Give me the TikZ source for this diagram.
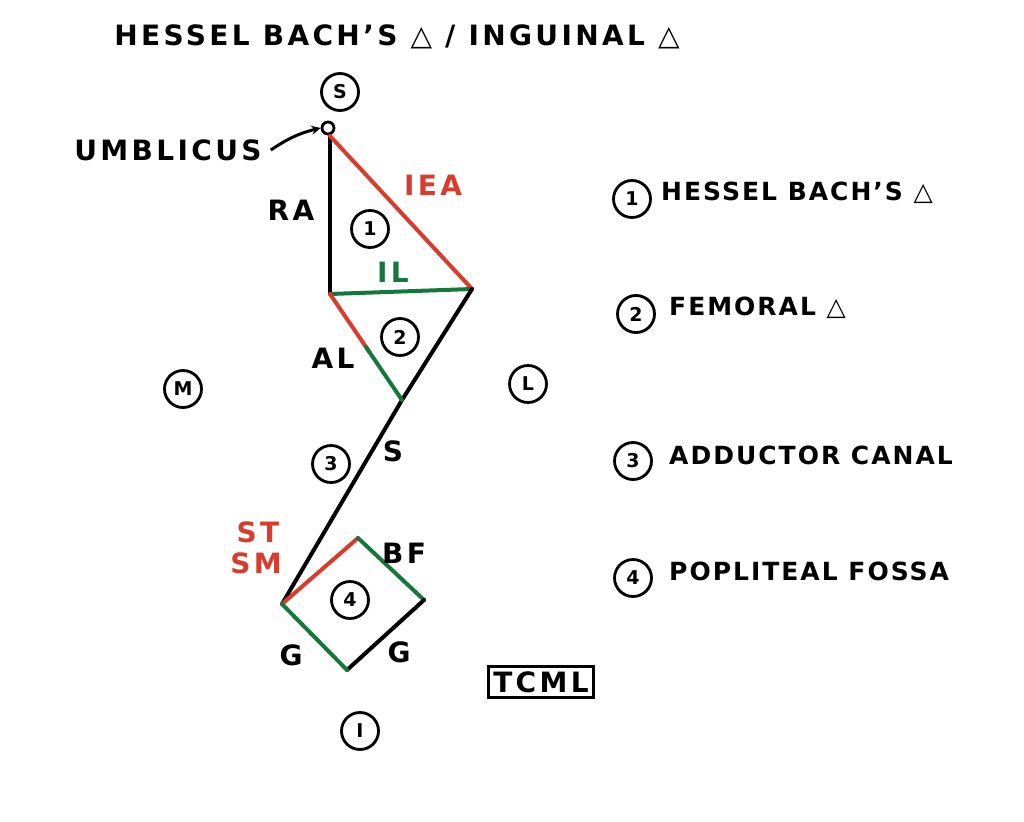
\documentclass[tikz,border=0pt]{standalone}
\usepackage{fontspec}
\setmainfont{DejaVu Sans}[LetterSpace=12]
\usetikzlibrary{calc}
\begin{document}
\begin{tikzpicture}[x=1pt,y=-1pt,
  lbl/.style={font=\bfseries\fontsize{28}{30}\selectfont,inner sep=1pt},
  leg/.style={font=\bfseries\fontsize{25}{27}\selectfont\addfontfeature{LetterSpace=8},inner sep=1pt,anchor=west},
  circ/.style={draw,circle,line width=2.8pt,inner sep=1pt,minimum size=37pt,font=\bfseries\fontsize{19}{21}\selectfont},
  ln/.style={line width=4pt,line cap=round}]
\definecolor{rd}{RGB}{215,60,45}
\definecolor{gr}{RGB}{20,120,60}
\useasboundingbox[fill=white] (0,0) rectangle (1024,821);
\node[lbl] (title) at (397,37) {HESSEL BACH'S △ / INGUINAL △};
\node[circ] (s) at (340,92) {S};
\node[draw,circle,line width=2.8pt,minimum size=12pt,inner sep=0pt] (umb) at (328,128) {};
\node[lbl] (umbl) at (168,150) {UMBLICUS};
\draw[line width=3pt,->,>=stealth] (umbl.east) ++(8,0) coordinate (ua) to[bend left=10] (umb.west);
\coordinate (A) at (330,136);
\coordinate (B) at (472,289);
\coordinate (C) at (330,294);
\coordinate (D) at (402,400);
\coordinate (E) at (282,604);
\coordinate (F) at (358,538);
\coordinate (G) at (424,600);
\coordinate (H) at (347,670);
\draw[ln] (A) -- (C);
\draw[ln,rd] (A) -- (B);
\draw[ln,gr] (C) -- (B);
\draw[ln] (B) -- (D) -- (E);
\draw[ln,rd] (C) -- ($(C)!0.55!(D)$);
\draw[ln,gr] ($(C)!0.5!(D)$) -- (D);
\draw[ln,rd] (E) -- (F);
\draw[ln,gr] (F) -- (G);
\draw[ln] (G) -- (H);
\draw[ln,gr] (H) -- (E);
\node[lbl] (ra) at (291,210) {RA};
\node[lbl,rd] (iea) at (433,185) {IEA};
\node[circ] (c1) at (370,229) {1};
\node[lbl,gr] (il) at (393,272) {IL};
\node[circ] (c2) at (400,337) {2};
\node[lbl] (al) at (333,358) {AL};
\node[circ] (m) at (183,389) {M};
\node[circ] (l) at (528,384) {L};
\node[circ] (c3) at (331,464) {3};
\node[lbl] (sl) at (393,451) {S};
\node[lbl,rd] (st) at (258,532) {ST};
\node[lbl,rd] (sm) at (256,563) {SM};
\node[lbl] (bf) at (404,553) {BF};
\node[circ] (c4) at (350,600) {4};
\node[lbl] (g1) at (291,655) {G};
\node[lbl] (g2) at (399,652) {G};
\node[circ] (i) at (360,731) {I};
\node[lbl,draw,line width=3pt,inner sep=5pt] (tcml) at (541,682) {TCML};
\node[circ] (k1) at (632,199) {1};
\node[leg] (t1) at (660,193) {HESSEL BACH'S △};
\node[circ] (k2) at (636,314) {2};
\node[leg] (t2) at (668,308) {FEMORAL △};
\node[circ] (k3) at (633,461) {3};
\node[leg] (t3) at (668,455) {ADDUCTOR CANAL};
\node[circ] (k4) at (633,578) {4};
\node[leg] (t4) at (668,571) {POPLITEAL FOSSA};
\end{tikzpicture}
\end{document}
